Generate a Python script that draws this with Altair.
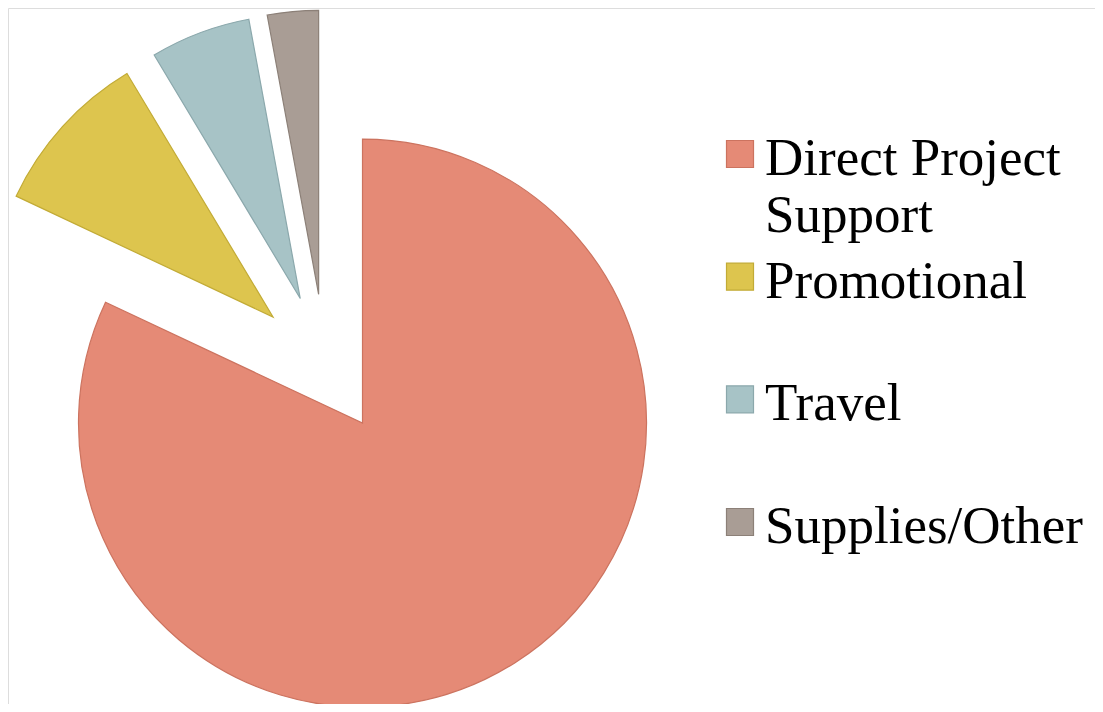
import altair as alt
import pandas as pd

# ---- data ----
categories = ["Direct Project Support", "Promotional", "Travel", "Supplies/Other"]
values = [82.0, 9.4, 5.7, 2.9]
legend_labels = ["Direct Project\nSupport", "Promotional", "Travel", "Supplies/Other"]

# ---- styles ----
fill_colors = ["#E58A76", "#DDC54E", "#A7C3C6", "#A99D95"]
stroke_colors = ["#CC735F", "#C2AB36", "#8BA8AC", "#8C8078"]
CX, CY = 317, 356        # pie centre inside plot area (px)
EXPLODE = 70             # explosion distance (px)
RADIUS = 284

df = pd.DataFrame({
    "category": categories,
    "value": values,
    "label": legend_labels,
    "order": list(range(len(categories))),
})

color_scale = alt.Scale(domain=categories, range=fill_colors)
stroke_scale = alt.Scale(domain=categories, range=stroke_colors)

pie = (
    alt.Chart(df)
    .transform_joinaggregate(total="sum(value)")
    .transform_window(cum="sum(value)", sort=[alt.SortField("order")], frame=[None, 0])
    .transform_calculate(
        t1="(datum.cum - datum.value) / datum.total * 2 * PI",
        t2="datum.cum / datum.total * 2 * PI",
    )
    .transform_calculate(mid="(datum.t1 + datum.t2) / 2")
    .transform_calculate(
        px=f"{CX} + {EXPLODE} * sin(datum.mid)",
        py=f"{CY} - {EXPLODE} * cos(datum.mid)",
    )
    .mark_arc(radius=RADIUS, strokeWidth=1.2)
    .encode(
        x=alt.X("px:Q", scale=None, axis=None),
        y=alt.Y("py:Q", scale=None, axis=None),
        theta=alt.Theta("t1:Q", scale=None),
        theta2="t2:Q",
        color=alt.Color("category:N", scale=color_scale, legend=None),
        stroke=alt.Stroke("category:N", scale=stroke_scale, legend=None),
    )
)

legend_y = alt.Y(
    "category:N",
    scale=alt.Scale(type="point", domain=categories, range=[146, 514], padding=0),
    axis=None,
)

legend_sq = (
    alt.Chart(df)
    .mark_square(size=27 * 27, opacity=1, strokeWidth=1.2)
    .encode(
        x=alt.value(732),
        y=legend_y,
        color=alt.Color("category:N", scale=color_scale, legend=None),
        stroke=alt.Stroke("category:N", scale=stroke_scale, legend=None),
    )
)

legend_txt = (
    alt.Chart(df)
    .mark_text(
        align="left",
        baseline="alphabetic",
        dy=21,
        font="Liberation Serif",
        fontSize=53,
        lineBreak="\n",
        lineHeight=57,
        color="#000000",
    )
    .encode(
        x=alt.value(757),
        y=legend_y,
        text="label:N",
    )
)

chart = (
    alt.layer(pie, legend_sq, legend_txt)
    .resolve_scale(x="independent", y="independent", color="shared", stroke="shared")
    .properties(width=1087, height=696, padding=0, autosize=alt.AutoSizeParams(type="none"))
    .configure_view(stroke="transparent", strokeWidth=0)
    .configure(background="white")
)

chart.save("out.html", embed_options={"renderer": "svg", "actions": False})
